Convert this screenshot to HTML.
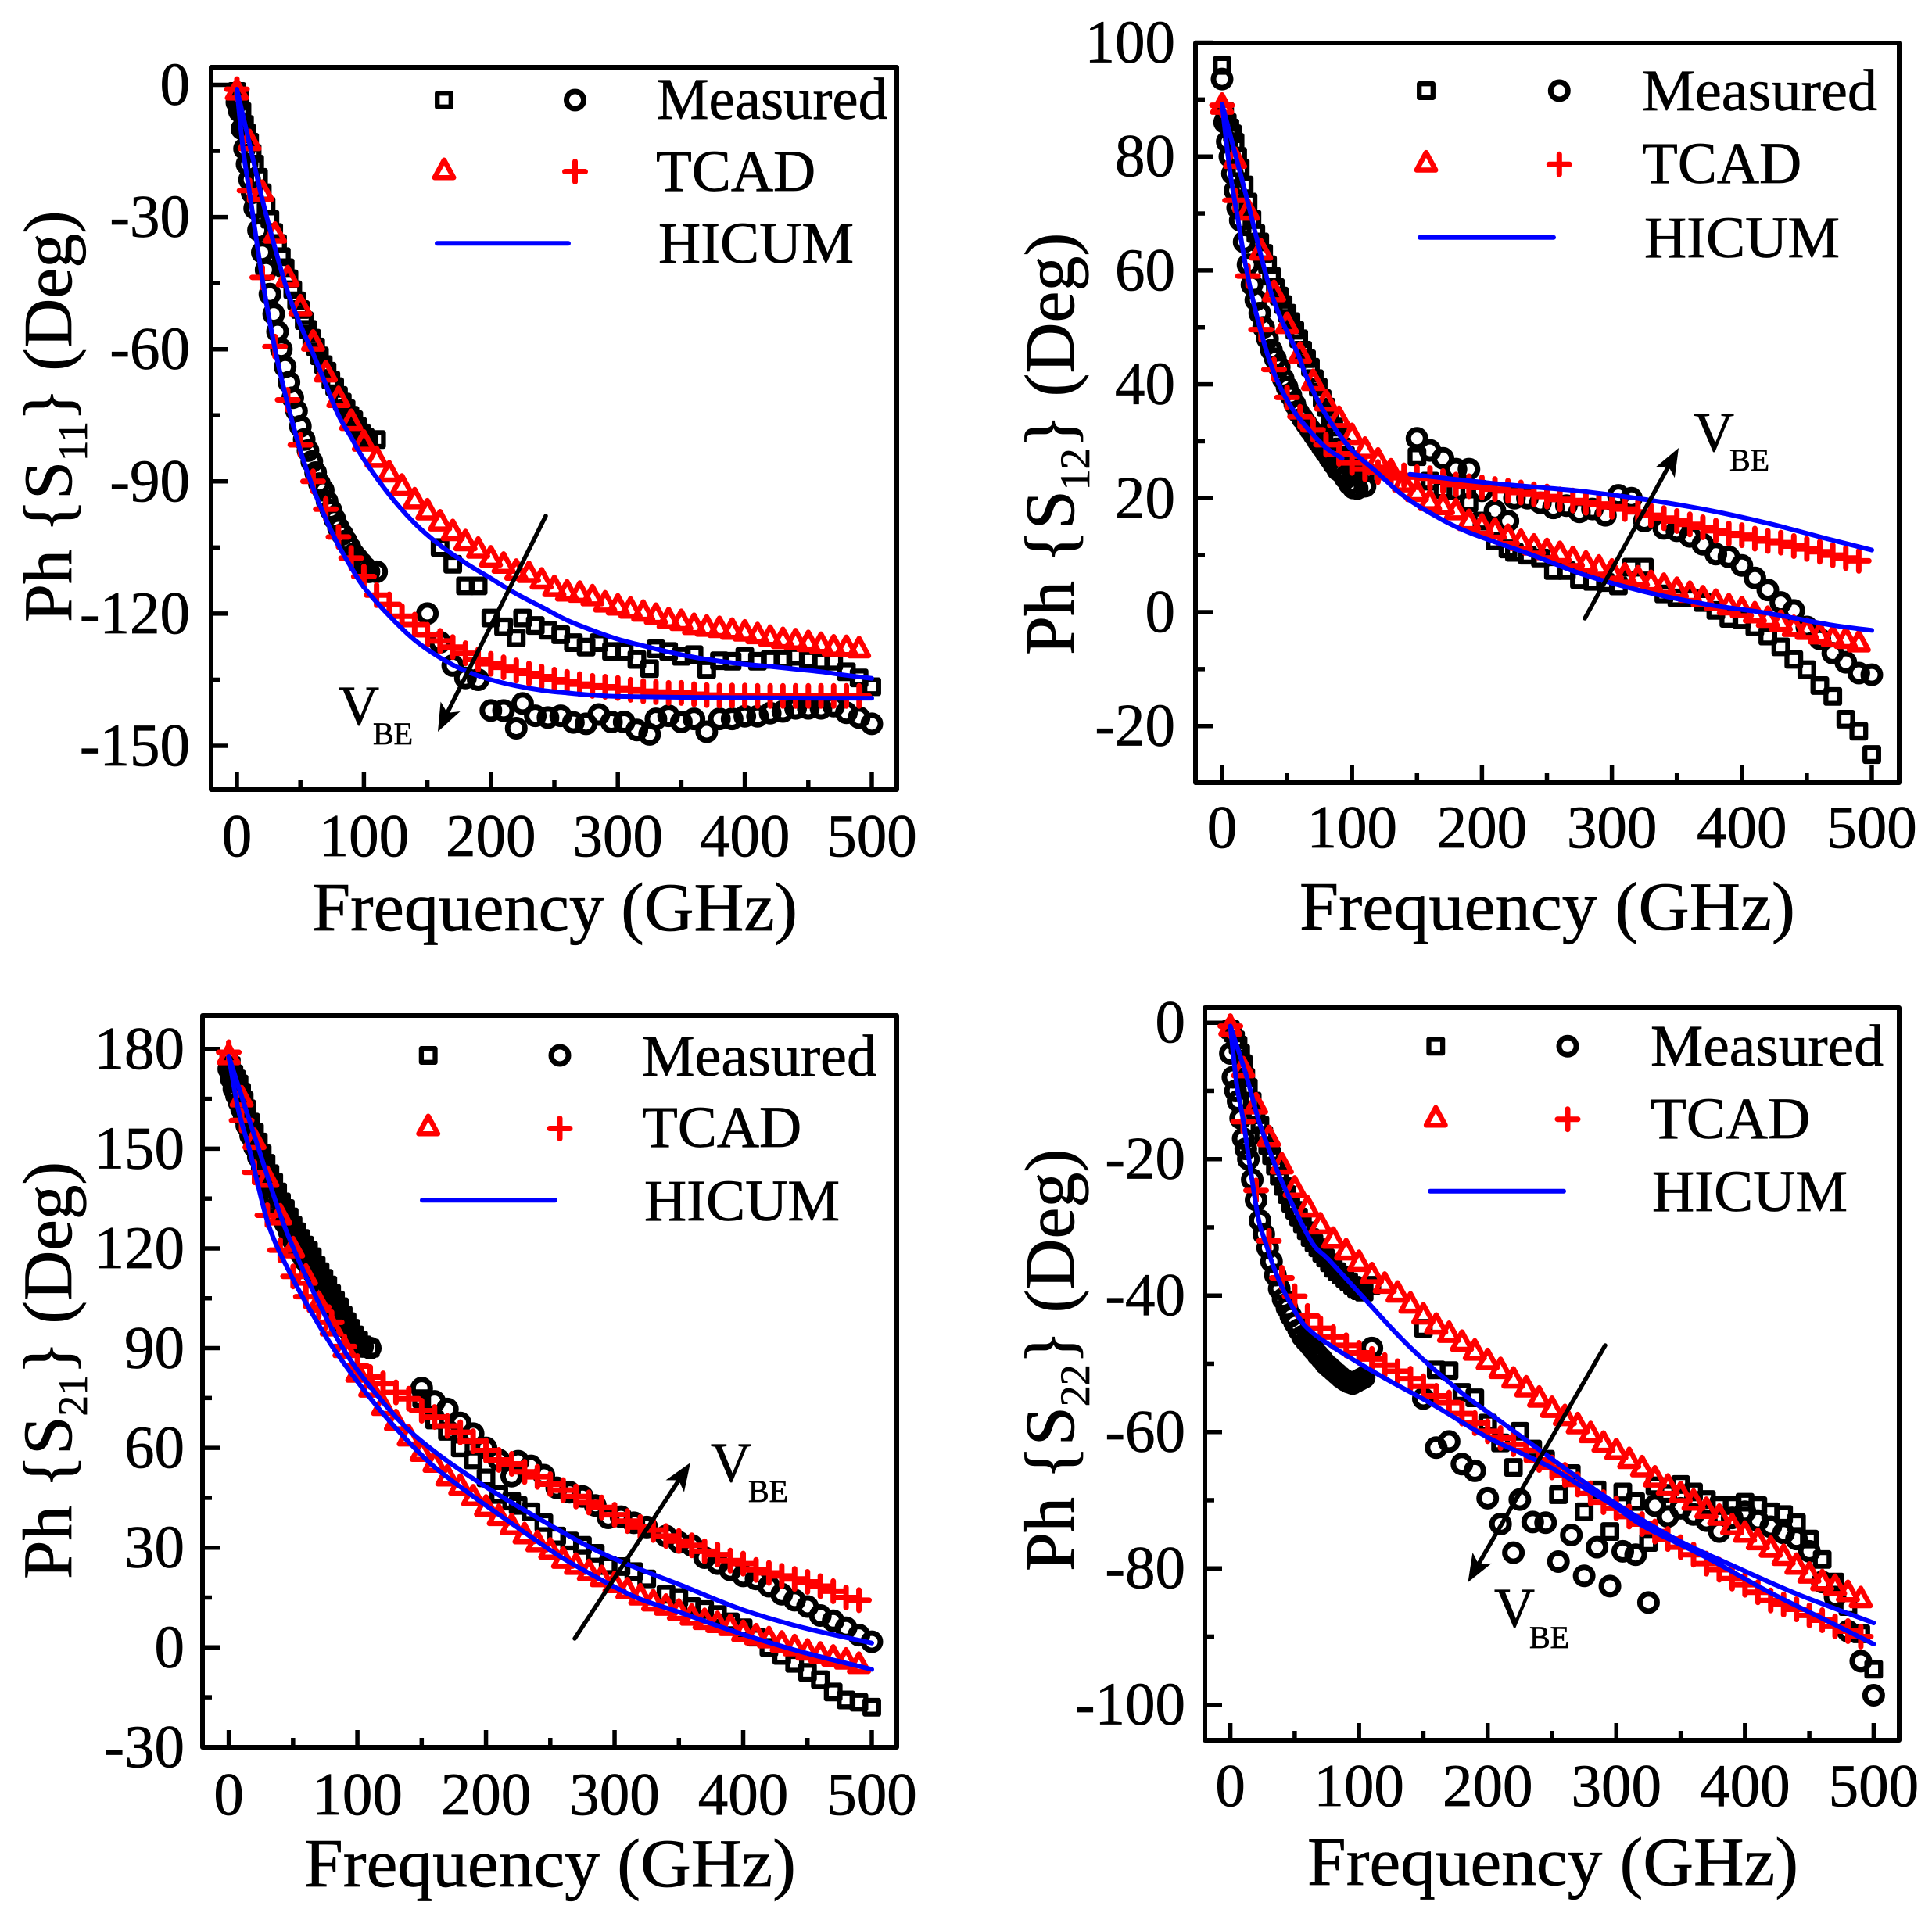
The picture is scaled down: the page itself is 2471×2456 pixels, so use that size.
<!DOCTYPE html>
<html lang="en"><head><meta charset="utf-8"><title>Phase of S-parameters vs frequency</title>
<style>
html,body{margin:0;padding:0;background:#fff}
svg{display:block}
text{font-family:"Liberation Serif","Times New Roman",serif;fill:#000;stroke:#000;stroke-width:0.7px}
</style></head>
<body>
<svg id="fig" xmlns="http://www.w3.org/2000/svg" width="2471" height="2456" viewBox="0 0 2471 2456">
<rect width="2471" height="2456" fill="#fff"/>
<g id="p11"></g>
<g id="p12"></g>
<g id="p21"></g>
<g id="p22"></g>

<g font-size="75">
<text x="399" y="1190" font-size="88" textLength="621" lengthAdjust="spacingAndGlyphs">Frequency (GHz)</text>
<text x="1662" y="1189" font-size="88" textLength="634" lengthAdjust="spacingAndGlyphs">Frequency (GHz)</text>
<text x="389" y="2413" font-size="88" textLength="629" lengthAdjust="spacingAndGlyphs">Frequency (GHz)</text>
<text x="1672" y="2411" font-size="88" textLength="628" lengthAdjust="spacingAndGlyphs">Frequency (GHz)</text>

<text transform="translate(91,796) rotate(-90)" font-size="88">Ph {S<tspan font-size="53" dy="20">11</tspan><tspan dy="-20">} (Deg)</tspan></text>
<text transform="translate(1373,838) rotate(-90)" font-size="90">Ph {S<tspan font-size="54" dy="20">12</tspan><tspan dy="-20">} (Deg)</tspan></text>
<text transform="translate(91,2020) rotate(-90)" font-size="89">Ph {S<tspan font-size="53" dy="20">21</tspan><tspan dy="-20">} (Deg)</tspan></text>
<text transform="translate(1373,2010) rotate(-90)" font-size="90">Ph {S<tspan font-size="54" dy="20">22</tspan><tspan dy="-20">} (Deg)</tspan></text>

<text x="840" y="152" textLength="295" lengthAdjust="spacingAndGlyphs">Measured</text>
<text x="839" y="244">TCAD</text>
<text x="842" y="336">HICUM</text>
<text x="2100" y="141" textLength="301" lengthAdjust="spacingAndGlyphs">Measured</text>
<text x="2100" y="234">TCAD</text>
<text x="2103" y="329">HICUM</text>
<text x="821" y="1376" textLength="300" lengthAdjust="spacingAndGlyphs">Measured</text>
<text x="821" y="1467">TCAD</text>
<text x="824" y="1561">HICUM</text>
<text x="2111" y="1363" textLength="298" lengthAdjust="spacingAndGlyphs">Measured</text>
<text x="2111" y="1456">TCAD</text>
<text x="2113" y="1549">HICUM</text>

<text x="433" y="927" font-size="72">V</text>
<text x="477" y="952" font-size="40">BE</text>
<text x="2166" y="577" font-size="72">V</text>
<text x="2212" y="602" font-size="40">BE</text>
<text x="909" y="1895" font-size="72">V</text>
<text x="957" y="1921" font-size="40">BE</text>
<text x="1911" y="2081" font-size="72">V</text>
<text x="1956" y="2108" font-size="40">BE</text>
</g>
</svg>
<script>
// ---------- shared frequency grids (GHz) ----------
const measLowF = [0,2,4,6,8,10,12,14,17,20,23,26,29,32,35,38,41,44,47,50,53,56,59,62,65,68,71,74,77,80,83,86,89,92,95,98,101,104,110];
const measHighF = [150,160,170,180,190,200,210,220,225,235,245,255,265,275,285,295,305,315,325,340,350,360,370,380,390,400,410,420,430,440,450,460,470,480,490,500];
const s11HighF = [150,160,170,180,190,200,210,220,225,235,245,255,265,275,285,295,305,315,325,330,340,350,360,370,380,390,400,410,420,430,440,450,460,470,480,490,500];
const s22HighF = [150,160,170,180,190,200,210,220,225,235,245,255,265,275,285,295,305,315,325,330,340,350,360,370,380,390,400,410,420,430,440,450,460,470,480,490,500];
const tcadF = [0,10,20,30,40,50,60,70,80,90,100,110,120,130,140,150,160,170,180,190,200,210,220,230,240,250,260,270,280,290,300,310,320,330,340,350,360,370,380,390,400,410,420,430,440,450,460,470,480,490];
const xTickLabels = [0,100,200,300,400,500];

// ---------- S11 ----------
const s11TickLabels = [0,-30,-60,-90,-120,-150];
const s11SqLow = [-1.5,-3,-6,-9,-11,-13,-15.5,-18,-21,-24.5,-27.5,-30.5,-33.5,-36,-39,-41.5,-44,-46.5,-49,-51,-53.5,-55.5,-57.5,-59.5,-61.5,-63.5,-65,-67,-68.5,-70.5,-72,-73.5,-75,-76,-77.5,-79,-80,-81,-80.5];
const s11CiLow = [-4,-6,-10,-14.5,-18,-21.5,-24.5,-28,-33,-38,-42,-47.5,-52,-56,-60,-64,-67.5,-71,-74,-77.5,-80.5,-83,-85.5,-88,-90.5,-92,-94.5,-96.5,-98.5,-100.5,-102,-103.5,-105,-106.5,-107.5,-108.5,-109.5,-110.5,-110.5];
const s11SqHigh = [null,-105,-108.8,-113.7,-113.7,-121,-123,-125.5,-121,-122.7,-123.8,-124.8,-126.6,-127.6,-126.6,-128.6,-128.6,-130.4,-132.5,-128,-128.6,-129.7,-129.3,-132.7,-130.7,-130.8,-129.7,-130.8,-130.4,-130.4,-129.7,-130.4,-130.8,-130.8,-133.2,-134.6,-136.6];
const s11CiHigh = [-120,-126.5,-131.8,-134.6,-135,-142,-142,-146,-140.4,-143.2,-143.6,-143.2,-144.7,-145,-142.9,-144.6,-144.6,-146.4,-147.4,-143.9,-143.2,-144.6,-143.9,-146.8,-143.9,-143.9,-143.3,-143.3,-142.6,-142.2,-141.5,-141.5,-141.5,-141,-142.5,-143.6,-145];
const s11Tri = [-1,-12.5,-24,-33.5,-43.4,-50,-58,-65,-70.8,-76,-80.7,-84.4,-87.7,-90.7,-93.8,-96.3,-98.8,-101,-103.3,-105,-107,-108.4,-110,-110.5,-112,-113.7,-114.7,-115,-115.8,-117.2,-117.9,-118.6,-119.3,-120,-121,-121.4,-122.3,-122.7,-123,-123.4,-123.8,-124.4,-125,-125.5,-125.8,-126.2,-126.6,-127.2,-127.3,-127.6];
const s11Plus = [-1,-24,-43.7,-59.4,-71.5,-81.7,-90,-96.3,-102.6,-107.4,-111.6,-115.8,-117.9,-120.6,-122.5,-124.8,-126.2,-127.6,-129,-130.4,-131.4,-132.2,-132.9,-133.6,-134.3,-135,-135.5,-136,-136.4,-136.6,-136.9,-137.3,-137.6,-137.8,-138,-138,-138.3,-138.5,-138.6,-138.6,-138.6,-138.7,-138.7,-138.7,-138.7,-138.7,-138.7,-138.7,-138.7,-138.7];
const s11HicumUpF = [0,10,20,30,40,50,60,70,80,90,100,120,140,160,180,200,220,240,260,280,300,320,340,360,380,400,420,440,460,480,500];
const s11HicumUp = [-1,-13.5,-26,-37,-47,-54.5,-61,-68,-75,-80,-85,-93,-99.5,-104.5,-108.5,-112,-115.5,-118.5,-121.5,-123.8,-125.8,-127.3,-128.7,-129.9,-130.8,-131.5,-132,-132.6,-133.2,-134,-134.7];
const s11HicumLoF = [0,5,10,20,30,40,50,60,70,80,90,100,120,140,160,180,200,220,240,260,280,300,350,400,450,500];
const s11HicumLo = [-1,-15,-24.5,-44,-60,-72.5,-83,-91.5,-98.5,-104.5,-109.5,-114,-120.5,-126,-130,-133,-135,-136.4,-137.4,-138,-138.5,-138.8,-139,-139.1,-139.2,-139.2];

// ---------- S12 ----------
const s12TickLabels = [100,80,60,40,20,0,-20];
const s12SqLow = [96,88,86,85,84,82.5,80,78,75,72,69,66.5,65,63,61,59,57,55.5,54,52.5,51,49.5,48,46,44.5,43,41,39.5,37.5,36,34,32.5,31,29,27.5,26,25,24.5,24.5];
const s12CiLow = [93.6,86,82.6,80,77,74,71,68.8,65,61,57.5,54.8,52.5,50,48,46,44.5,43,41,39.5,38,36.5,35,34,33,32,31,30,29,28,27,26,25,24.5,23.5,22.5,21.8,21.7,22.1];
const s12SqHigh = [27.3,23,21.5,21.3,19.2,16,12.5,11.1,10.5,10,9.5,7.3,7.3,5.7,5.4,5.2,4.6,7.9,7.9,3.2,2.5,2.5,1.7,0.3,-1.1,-1.3,-2.6,-4.2,-6.1,-8.3,-10.1,-12.9,-14.8,-18.8,-20.9,-25];
const s12CiHigh = [30.5,28.4,27,25.1,25.1,21.3,17.8,16,20,20,19.2,18.3,18.7,17.6,18.1,17,20.5,20,16,14.7,14.3,13.3,11.9,10.2,9.7,8.2,6,3.9,1.7,0.3,-2.6,-4.7,-7.2,-8.8,-10.7,-11];
const s12Tri = [89.3,79.8,70.7,63.7,56.4,50.8,45.6,40.8,37.2,34.3,31.3,28.9,27,25.1,23,21.3,19.7,19,18.1,16.2,15.4,14.7,13.6,12.7,11.9,11.1,10.6,9.7,8.9,8.2,7.5,6.8,6.3,5.5,5,4.3,3.6,2.8,2.2,1.4,0.9,0,-0.8,-1.5,-2.4,-2.9,-3.7,-4.2,-4.5,-5.1];
const s12Plus = [89,72.3,59,49.6,42.6,37.7,34.3,32,29.4,27.8,26.2,25.1,24.6,24.4,24,23.7,23.5,23,22.4,22.1,21.9,21.6,21.3,21,20.7,20.3,19.8,19.6,19.2,19,18.5,18.1,17.6,17,16.5,16,15.4,14.9,14.3,13.8,13.5,12.9,12.5,12.2,11.6,11.1,10.6,10,9.5,9];
const s12HicumAF = [0,18,38.3,58.4,64.4,78.4,98.5,118.5,138.6,158.7,188.7,239,278,325,372,420,467,500];
const s12HicumA = [89.2,73.6,55.7,45.3,41.6,35.2,28.8,24.7,20.6,17.6,14.1,10,6.6,3.6,1.4,-0.2,-2.2,-3.2];
const s12HicumB1F = [0,6.2,12.2,18.2,26.2,36.3,46.3,58.4,78.4,92.4];
const s12HicumB1 = [89.2,77.2,69,60.8,52.5,44.3,38.8,34.3,29.2,27];
const s12HicumB2F = [144.6,200,239,278,325,372,420,467,500];
const s12HicumB2 = [24.2,22.8,22,21.2,19.8,18,15.6,12.8,10.9];

// ---------- S21 ----------
const s21TickLabels = [180,150,120,90,60,30,0,-30];
const s21SqLow = [177,175,172.5,171,169.5,167,164.5,162,158,155,152,148.5,145.6,142.5,140,137,134,132,129.5,127,125,123,121,119.5,117.5,115,113,111,109,106.5,104.5,102.5,100,98,96,94,92.5,91,90];
const s21CiLow = [174,171,168,166,164,162,159.5,157,154,150.5,147.5,144,141,138.5,135.5,132.5,130,127.5,125,122.5,120.5,118.5,116.5,115,113,111,109,107,105,103,101,99,97.5,96,94.5,93,91.5,90.5,90];
const s21SqHigh = [74.8,68.4,65,60,56.4,51,46,44,42.7,40.8,37.5,33.5,32,30.7,28.3,24.6,24.3,22.8,20.6,16,15,12.3,11.4,9.9,7.7,5.9,3.1,0,-2.4,-4.8,-7.5,-9.7,-13.4,-15.8,-16.5,-18];
const s21CiHigh = [78,74,71.7,67.5,64.3,60,56.4,51.5,56,54.6,51.8,48,46.7,45.4,42.7,39,39.3,37.5,36.2,33.5,31.6,30.7,27,25.2,23.3,21.5,20.6,18.4,16,14.2,12.3,9.6,8,5.9,3.7,1.7];
const s21Tri = [178.5,165.8,153,141.6,130.3,120.4,112.2,104,96.9,90.4,83,78.5,73,68.4,63.8,59.2,55.9,51.8,49,45.8,42.7,39.9,37.1,34.4,32,29.8,27,25.2,23.3,21.5,19.7,17.8,16,14.2,12.9,11.4,9.9,8.6,7.7,6.8,5,4,3.1,1.8,0.7,-0.6,-1.5,-2.4,-3.3,-4.6];
const s21Plus = [179,158.5,142.9,130,119.5,111.6,105.5,102.4,97.8,90.5,84.6,81.3,79.4,76.7,74.8,71.2,69.3,66.6,64.7,62,59.2,56.4,55.2,52.8,51.3,49.1,47.3,45.4,43.6,42.1,39.9,38,36.2,35.3,33.5,32,30.7,28.9,27.9,26.1,25.2,23.3,22.4,21.5,20.6,19.7,18.4,16.9,15,14.2];
const s21HicumUpF = [0,20.7,43,67,93.6,130,159,197,236,279,310,351,399,447,500];
const s21HicumUp = [177.8,153,127,106,87,69.3,59.2,49,39.9,30.5,25,18.8,11.4,5.9,1.3];
const s21HicumLoF = [0,7.5,16.6,31,49,67,83.6,110,135,159,187,221,255,284,317,351,399,447,500];
const s21HicumLo = [177.8,161.6,149,127,111.5,99,88.7,75,63.8,54.6,46.3,37,28,21.5,15,10.5,4,-1.5,-6.6];

// ---------- S22 ----------
const s22TickLabels = [0,-20,-40,-60,-80,-100];
const s22SqLow = [-1,-1.5,-2.5,-3.3,-4.5,-6,-8,-9.5,-11.5,-13.5,-15,-16.5,-18,-19.5,-21,-22.5,-24,-25.2,-26.5,-27.5,-28.5,-29.5,-30.5,-31.5,-32.3,-33,-33.8,-34.5,-35.2,-36,-36.5,-37,-37.5,-38,-38.5,-39,-39.3,-39.5,-38.5];
const s22CiLow = [-4.5,-8,-10,-11.5,-14,-17,-18.5,-20,-23,-26,-29,-31,-33,-35,-37,-39,-40.5,-41.8,-43,-44,-45,-46,-46.7,-47.3,-48,-48.7,-49.3,-50,-50.5,-51,-51.5,-52,-52.4,-52.7,-52.9,-52.6,-52.3,-52,-47.7];
const s22SqHigh = [-44.8,-50.9,-51,-54.2,-55,-58.7,-61.6,-65.2,-59.9,-62.5,-64,-69.2,-66.1,-71.7,-68.5,-74.6,-68.8,-70.2,-76.2,-67.9,-69,-67.7,-68.8,-69.9,-70.8,-70.8,-70.3,-70.8,-71.7,-72.1,-73.3,-75.7,-78.7,-82,-85.6,-89.6,-94.8];
const s22CiHigh = [-55.1,-62.3,-61.4,-64.7,-65.7,-69.7,-73.5,-77.7,-69.9,-73.2,-73.3,-79,-75.1,-81.1,-76.9,-82.6,-77.5,-78,-85,-70.8,-72.4,-71.2,-72.1,-73,-74.6,-72.6,-71.7,-73,-73.9,-74.8,-75.7,-77.5,-82,-84.2,-89.2,-93.6,-98.6];
const s22Tri = [-0.4,-6.5,-11.8,-16.6,-20.6,-24,-26.9,-29.4,-31.5,-33.2,-34.9,-36.7,-38.1,-39.4,-41,-42.6,-44.1,-45.3,-46.6,-47.9,-49.3,-50.6,-52,-53.3,-54.8,-56.3,-57.5,-58.7,-60,-61.4,-62.5,-63.8,-65,-66.5,-67.7,-68.8,-69.9,-71.1,-72.1,-73.5,-74.6,-75.7,-76.8,-78,-79.3,-80.6,-81.7,-82.4,-83.3,-84.2];
const s22Plus = [-0.5,-14.5,-24.6,-32,-37.4,-40.1,-43,-44.8,-46.1,-47.3,-48.4,-49.3,-50.2,-51.1,-52.2,-53.3,-54.7,-55.7,-57.3,-58.7,-59.9,-60.9,-61.8,-62.7,-64.1,-65.2,-66.3,-67.7,-69,-70.3,-71.2,-72.4,-73.5,-74.6,-75.7,-76.9,-78,-79.3,-80.2,-81.5,-82.4,-83.5,-84.7,-85.3,-86,-86.9,-87.6,-88.5,-89.2,-90];
const s22HicumUpF = [0,12,22,32.3,42.4,62.7,76.8,103,137.6,178,206,259,298,346,394,441,500];
const s22HicumUp = [-0.5,-7.5,-14.3,-19.7,-24.3,-32,-34.8,-40.2,-47.2,-54,-57.9,-65.2,-70.3,-75.7,-79.9,-83.8,-88];
const s22HicumLoF = [0,4.9,10,16,22,28,34,42,52.5,60.5,76.8,117,157.6,198,227,250,274,298,322,370,417,465,500];
const s22HicumLo = [-0.5,-9,-14.3,-22,-28.9,-32.6,-36,-39.5,-43,-44.9,-47.2,-51.8,-56,-60.6,-63.2,-65.3,-68.1,-70.8,-73.9,-78.4,-83.3,-87.8,-91.1];

// ---------- drawing ----------
const NS = 'http://www.w3.org/2000/svg';
const BLACK = '#000', RED = '#f00', BLUE = '#00f';

function mk(parent, tag, name, attrs) {
  const el = document.createElementNS(NS, tag);
  
  
  for (const k in attrs) el.setAttribute(k, attrs[k]);
  parent.appendChild(el);
  return el;
}
function marker(parent, kind, name, x, y) {
  if (kind === 'square') return mk(parent, 'rect', name, {x: x - 8.8, y: y - 8.8, width: 17.6, height: 17.6, fill: 'none', stroke: BLACK, 'stroke-width': 6.3, 'stroke-linejoin': 'round'});
  if (kind === 'circle') return mk(parent, 'circle', name, {cx: x, cy: y, r: 11, fill: 'none', stroke: BLACK, 'stroke-width': 7});
  if (kind === 'triangle') return mk(parent, 'polygon', name, {points: x + ',' + (y - 11.2) + ' ' + (x + 12.2) + ',' + (y + 11.2) + ' ' + (x - 12.2) + ',' + (y + 11.2), fill: 'none', stroke: RED, 'stroke-width': 6.5, 'stroke-linejoin': 'round'});
  return mk(parent, 'path', name, {d: 'M' + (x - 13) + ' ' + y + 'H' + (x + 13) + 'M' + x + ' ' + (y - 13) + 'V' + (y + 13), fill: 'none', stroke: RED, 'stroke-width': 7, 'stroke-linecap': 'round'});
}
// smooth curve through the data points (Catmull-Rom to Bezier)
function smooth(pts) {
  let d = 'M' + pts[0][0] + ' ' + pts[0][1];
  for (let i = 0; i < pts.length - 1; i++) {
    const p0 = pts[Math.max(i - 1, 0)], p1 = pts[i], p2 = pts[i + 1], p3 = pts[Math.min(i + 2, pts.length - 1)];
    const c1x = p1[0] + (p2[0] - p0[0]) / 6, c1y = p1[1] + (p2[1] - p0[1]) / 6;
    const c2x = p2[0] - (p3[0] - p1[0]) / 6, c2y = p2[1] - (p3[1] - p1[1]) / 6;
    d += 'C' + c1x + ' ' + c1y + ' ' + c2x + ' ' + c2y + ' ' + p2[0] + ' ' + p2[1];
  }
  return d;
}

function panel(cfg) {
  const g = document.getElementById(cfg.id);
  const xS = f => cfg.x0 + (cfg.x1 - cfg.x0) * f / 500;
  const yS = v => cfg.yA + (cfg.yB - cfg.yA) * (v - cfg.vA) / (cfg.vB - cfg.vA);
  const pre = cfg.prefix;

  mk(g, 'rect', pre + '-plot-frame', {x: cfg.L, y: cfg.T, width: cfg.R - cfg.L, height: cfg.B - cfg.T, fill: 'none', stroke: BLACK, 'stroke-width': 6, 'stroke-linejoin': 'round'});

  xTickLabels.forEach((t, i) => {
    mk(g, 'line', pre + '-x-tick-major', {x1: xS(t), x2: xS(t), y1: cfg.B, y2: cfg.B - 22, stroke: BLACK, 'stroke-width': 5.5});
    if (i < xTickLabels.length - 1) mk(g, 'line', pre + '-x-tick-minor', {x1: xS(t + 50), x2: xS(t + 50), y1: cfg.B, y2: cfg.B - 12, stroke: BLACK, 'stroke-width': 5.5});
    const lab = mk(g, 'text', pre + '-x-tick-label', {x: xS(t), y: cfg.xLabY, 'font-size': 77, 'text-anchor': 'middle'});
    lab.textContent = String(t);
  });
  cfg.ticks.forEach((t, i) => {
    mk(g, 'line', pre + '-y-tick-major', {x1: cfg.L, x2: cfg.L + 22, y1: yS(t), y2: yS(t), stroke: BLACK, 'stroke-width': 5.5});
    if (i < cfg.ticks.length - 1) {
      const mid = (t + cfg.ticks[i + 1]) / 2;
      mk(g, 'line', pre + '-y-tick-minor', {x1: cfg.L, x2: cfg.L + 12, y1: yS(mid), y2: yS(mid), stroke: BLACK, 'stroke-width': 5.5});
    }
    const lab = mk(g, 'text', pre + '-y-tick-label', {x: cfg.yLabX, y: yS(t) + 25, 'font-size': 77, 'text-anchor': 'end'});
    lab.textContent = String(t);
  });

  cfg.black.forEach(s => {
    const sg = mk(g, 'g', pre + '-' + s.name, {});
    s.f.forEach((f, i) => {
      if (s.v[i] === null || s.v[i] === undefined) return;
      marker(sg, s.kind, pre + '-' + s.kind + '-point', xS(f), yS(s.v[i]));
    });
  });
  cfg.red.forEach(s => {
    const sg = mk(g, 'g', pre + '-' + s.name, {});
    s.f.forEach((f, i) => {
      marker(sg, s.kind, pre + '-' + s.kind + '-point', xS(f), yS(s.v[i]));
    });
  });
  cfg.lines.forEach(s => {
    mk(g, 'path', pre + '-' + s.name, {d: smooth(s.f.map((f, i) => [xS(f), yS(s.v[i])])), fill: 'none', stroke: BLUE, 'stroke-width': 6, 'stroke-linejoin': 'round', 'stroke-linecap': 'round'});
  });

  const L = cfg.leg;
  marker(g, 'square', pre + '-legend-square', L.x1, L.y1);
  marker(g, 'circle', pre + '-legend-circle', L.x2, L.y1);
  marker(g, 'triangle', pre + '-legend-triangle', L.x1, L.yT);
  marker(g, 'plus', pre + '-legend-plus', L.x2, L.yP);
  mk(g, 'line', pre + '-legend-line', {x1: L.lx1, x2: L.lx2, y1: L.y3, y2: L.y3, stroke: BLUE, 'stroke-width': 6, 'stroke-linecap': 'round'});

  const A = cfg.arrow;
  const dx = A[2] - A[0], dy = A[3] - A[1], len = Math.hypot(dx, dy), ux = dx / len, uy = dy / len;
  mk(g, 'line', pre + '-vbe-arrow-shaft', {x1: A[0], y1: A[1], x2: A[2] - ux * 22, y2: A[3] - uy * 22, stroke: BLACK, 'stroke-width': 5.5, 'stroke-linecap': 'round'});
  const hx = A[2] - ux * 36, hy = A[3] - uy * 36, nx = -uy * 14, ny = ux * 14;
  const nk = [A[2] - ux * 27, A[3] - uy * 27];
  mk(g, 'polygon', pre + '-vbe-arrow-head', {points: A[2] + ',' + A[3] + ' ' + (hx + nx) + ',' + (hy + ny) + ' ' + nk[0] + ',' + nk[1] + ' ' + (hx - nx) + ',' + (hy - ny), fill: BLACK});
}

panel({id: 'p11', prefix: 's11', L: 270, T: 86, R: 1147, B: 1010, x0: 303, x1: 1115, vA: 0, yA: 108.5, vB: -150, yB: 954,
  ticks: s11TickLabels, xLabY: 1095, yLabX: 243,
  black: [{name: 'measured-low-vbe', kind: 'square', f: measLowF, v: s11SqLow}, {name: 'measured-low-vbe-high-band', kind: 'square', f: s11HighF, v: s11SqHigh},
          {name: 'measured-high-vbe', kind: 'circle', f: measLowF, v: s11CiLow}, {name: 'measured-high-vbe-high-band', kind: 'circle', f: s11HighF, v: s11CiHigh}],
  red: [{name: 'tcad-high-vbe', kind: 'plus', f: tcadF, v: s11Plus}, {name: 'tcad-low-vbe', kind: 'triangle', f: tcadF, v: s11Tri}],
  lines: [{name: 'hicum-low-vbe', f: s11HicumUpF, v: s11HicumUp}, {name: 'hicum-high-vbe', f: s11HicumLoF, v: s11HicumLo}],
  leg: {x1: 568, x2: 735.5, y1: 128, yT: 216, yP: 219.5, lx1: 559, lx2: 727, y3: 311.3}, arrow: [698, 660, 560, 936]});

panel({id: 'p12', prefix: 's12', L: 1529, T: 55, R: 2429, B: 1001, x0: 1563, x1: 2394, vA: 0, yA: 783, vB: -20, yB: 928.7,
  ticks: s12TickLabels, xLabY: 1084, yLabX: 1503,
  black: [{name: 'measured-low-vbe', kind: 'square', f: measLowF, v: s12SqLow}, {name: 'measured-low-vbe-high-band', kind: 'square', f: measHighF, v: s12SqHigh},
          {name: 'measured-high-vbe', kind: 'circle', f: measLowF, v: s12CiLow}, {name: 'measured-high-vbe-high-band', kind: 'circle', f: measHighF, v: s12CiHigh}],
  red: [{name: 'tcad-high-vbe', kind: 'plus', f: tcadF, v: s12Plus}, {name: 'tcad-low-vbe', kind: 'triangle', f: tcadF, v: s12Tri}],
  lines: [{name: 'hicum-low-vbe', f: s12HicumAF, v: s12HicumA}, {name: 'hicum-high-vbe-low-band', f: s12HicumB1F, v: s12HicumB1}, {name: 'hicum-high-vbe-high-band', f: s12HicumB2F, v: s12HicumB2}],
  leg: {x1: 1824, x2: 1994.3, y1: 116, yT: 206.3, yP: 210.3, lx1: 1816, lx2: 1987, y3: 303.7}, arrow: [2027, 791, 2147, 573]});

panel({id: 'p21', prefix: 's21', L: 259, T: 1299, R: 1147, B: 2235, x0: 292.6, x1: 1115, vA: 180, yA: 1341.8, vB: 0, yB: 2107.3,
  ticks: s21TickLabels, xLabY: 2321, yLabX: 236,
  black: [{name: 'measured-low-vbe', kind: 'square', f: measLowF, v: s21SqLow}, {name: 'measured-low-vbe-high-band', kind: 'square', f: measHighF, v: s21SqHigh},
          {name: 'measured-high-vbe', kind: 'circle', f: measLowF, v: s21CiLow}, {name: 'measured-high-vbe-high-band', kind: 'circle', f: measHighF, v: s21CiHigh}],
  red: [{name: 'tcad-high-vbe', kind: 'plus', f: tcadF, v: s21Plus}, {name: 'tcad-low-vbe', kind: 'triangle', f: tcadF, v: s21Tri}],
  lines: [{name: 'hicum-high-vbe', f: s21HicumUpF, v: s21HicumUp}, {name: 'hicum-low-vbe', f: s21HicumLoF, v: s21HicumLo}],
  leg: {x1: 547.7, x2: 716, y1: 1350, yT: 1439, yP: 1443.5, lx1: 540, lx2: 710, y3: 1535.3}, arrow: [735, 2096, 883, 1871]});

panel({id: 'p22', prefix: 's22', L: 1541, T: 1289, R: 2429, B: 2226, x0: 1573.6, x1: 2396.4, vA: 0, yA: 1308.2, vB: -100, yB: 2180.7,
  ticks: s22TickLabels, xLabY: 2310, yLabX: 1516,
  black: [{name: 'measured-low-vbe', kind: 'square', f: measLowF, v: s22SqLow}, {name: 'measured-low-vbe-high-band', kind: 'square', f: s22HighF, v: s22SqHigh},
          {name: 'measured-high-vbe', kind: 'circle', f: measLowF, v: s22CiLow}, {name: 'measured-high-vbe-high-band', kind: 'circle', f: s22HighF, v: s22CiHigh}],
  red: [{name: 'tcad-high-vbe', kind: 'plus', f: tcadF, v: s22Plus}, {name: 'tcad-low-vbe', kind: 'triangle', f: tcadF, v: s22Tri}],
  lines: [{name: 'hicum-low-vbe', f: s22HicumUpF, v: s22HicumUp}, {name: 'hicum-high-vbe', f: s22HicumLoF, v: s22HicumLo}],
  leg: {x1: 1836.3, x2: 2005, y1: 1338.3, yT: 1428, yP: 1431.7, lx1: 1829, lx2: 2000, y3: 1523.7}, arrow: [2053, 1721, 1877.5, 2024]});
</script>
</body></html>
